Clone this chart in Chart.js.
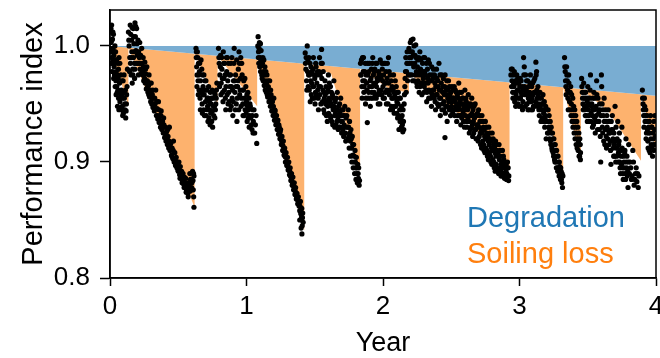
<!DOCTYPE html>
<html>
<head>
<meta charset="utf-8">
<script src="https://cdn.jsdelivr.net/npm/chart.js@4.4.0/dist/chart.umd.min.js"></script>
<style>
  html, body { margin: 0; padding: 0; background: #fff; }
  #chart { display: block; }
</style>
</head>
<body>
<canvas id="chart" width="660" height="358"></canvas>
<script>
// axis ticks
var xTicks = [0, 1, 2, 3, 4];
var yTicks = [0.8, 0.9, 1.0];
var legendLabels = ['Degradation', 'Soiling loss'];

// degradation trend (upper edge of the orange area)
var degradationX = [0, 4];
var degradationY = [1.0, 0.957];

// soiling profile (lower edge of the orange area)
var soilingX = [0, 0.135, 0.135, 0.62, 0.62, 0.788, 0.788, 1.078, 1.078, 1.423, 1.423, 1.62, 1.832, 1.832,
  2.058, 2.19, 2.19, 2.518, 2.664, 2.927, 2.927, 3.175, 3.32, 3.32, 3.45, 3.45, 3.65, 3.89, 3.89, 4.0];
var soilingY = [1.0, 0.948, 0.9986, 0.861, 0.9934, 0.950, 0.9916, 0.948, 0.9885, 0.841, 0.9848, 0.976, 0.892, 0.9804,
  0.962, 0.960, 0.9766, 0.945, 0.930, 0.896, 0.9687, 0.956, 0.889, 0.9645, 0.902, 0.963, 0.944, 0.901, 0.9584, 0.911];

// daily performance index, one array per cleaning cycle [year, value]
var cycle0 = [[0.005,1.012],[0.008,1.003],[0.01,0.995],[0.012,1.018],[0.015,0.99],[0.018,1.006],[0.02,0.985],[0.022,0.998],
  [0.025,1.01],[0.028,0.992],[0.03,0.982],[0.033,0.975],[0.036,1.0],[0.04,0.988],[0.043,0.97],[0.046,0.978],[0.05,0.965],
  [0.053,0.96],[0.056,0.985],[0.06,0.972],[0.063,0.955],[0.066,0.99],[0.07,0.968],[0.073,0.952],[0.076,0.946],[0.08,0.975],
  [0.083,0.962],[0.086,0.958],[0.09,0.948],[0.093,0.94],[0.096,0.97],[0.1,0.96],[0.105,0.955],[0.11,0.945],[0.115,0.938],
  [0.12,0.95],[0.125,0.965],[0.128,0.98],
  [0.003,0.998],[0.007,1.015],[0.011,0.985],[0.014,1.005],[0.017,0.978],[0.021,1.012],[0.024,0.988],[0.027,0.972],
  [0.031,0.995],[0.034,0.985],[0.038,0.965],[0.041,0.995],[0.045,0.958],[0.048,0.988],[0.052,0.975],[0.055,0.948],
  [0.058,0.962],[0.062,0.98],[0.065,0.945],[0.068,0.96],[0.072,0.985],[0.078,0.958],[0.082,0.945],[0.088,0.97],
  [0.092,0.955],[0.098,0.942],[0.103,0.975],[0.108,0.95],[0.113,0.962],[0.118,0.944],[0.122,0.958]];
var cycle1 = [[0.135,1.012],[0.14,1.0],[0.145,0.99],[0.148,1.018],[0.15,0.985],[0.155,0.975],[0.158,1.005],[0.16,0.995],
  [0.163,0.968],[0.166,0.98],[0.17,1.015],[0.172,0.99],[0.175,1.002],[0.178,0.985],[0.18,0.972],[0.183,1.02],[0.186,1.008],
  [0.19,0.996],[0.195,1.015],[0.2,0.992],[0.205,1.005],[0.21,0.995],[0.212,0.985],[0.218,1.003],[0.22,0.98],[0.225,0.992],
  [0.228,0.976],[0.232,0.998],[0.235,0.985],[0.24,0.975],[0.243,0.99],[0.247,0.97],[0.25,0.98],[0.255,0.986],[0.258,0.968],
  [0.262,0.976],[0.266,0.963],[0.27,0.982],[0.274,0.97],[0.278,0.96],[0.282,0.966],[0.286,0.975],[0.29,0.956],[0.294,0.962],
  [0.298,0.952],[0.302,0.968],[0.306,0.95],[0.31,0.958],[0.315,0.947],[0.32,0.955],[0.325,0.944],[0.33,0.95],[0.335,0.962],
  [0.34,0.94],[0.345,0.946],[0.35,0.937],[0.355,0.952],[0.36,0.934],[0.365,0.94],[0.37,0.93],[0.375,0.944],[0.38,0.928],
  [0.385,0.935],[0.39,0.925],[0.395,0.932],[0.4,0.921],[0.405,0.93],[0.41,0.918],[0.415,0.926],[0.42,0.915],[0.425,0.922],
  [0.43,0.912],[0.435,0.93],[0.44,0.91],[0.445,0.916],[0.45,0.906],[0.455,0.912],[0.46,0.903],[0.465,0.918],[0.47,0.9],
  [0.475,0.908],[0.48,0.897],[0.485,0.904],[0.49,0.895],[0.495,0.9],[0.5,0.892],[0.505,0.9],[0.51,0.889],[0.515,0.896],
  [0.52,0.886],[0.525,0.892],[0.53,0.884],[0.535,0.89],[0.54,0.881],[0.545,0.887],[0.55,0.878],[0.555,0.886],[0.56,0.876],
  [0.565,0.882],[0.57,0.873],[0.575,0.88],[0.58,0.875],[0.585,0.89],[0.59,0.885],[0.6,0.882],[0.605,0.892],[0.61,0.876],
  [0.613,0.87],[0.615,0.888],[0.615,0.861],
  [0.138,1.005],[0.143,0.978],[0.152,1.01],[0.157,0.99],[0.162,1.016],[0.168,0.975],[0.173,1.008],[0.177,0.995],
  [0.182,0.98],[0.188,1.017],[0.192,0.985],[0.198,1.002],[0.203,0.985],[0.208,0.975],[0.215,0.99],[0.223,0.985],
  [0.237,0.978],[0.245,0.982],[0.253,0.972],[0.26,0.98],[0.268,0.97],[0.276,0.965],[0.284,0.958],[0.292,0.968],[0.3,0.96],
  [0.308,0.955],[0.313,0.962],[0.318,0.95],[0.328,0.955],[0.333,0.946],[0.343,0.952],[0.348,0.94],[0.358,0.945],
  [0.363,0.936],[0.373,0.94],[0.378,0.932],[0.388,0.93],[0.393,0.938],[0.403,0.925],[0.408,0.922],[0.418,0.92],
  [0.423,0.928],[0.433,0.918],[0.438,0.914],[0.448,0.912],[0.453,0.905],[0.463,0.91],[0.468,0.902],[0.478,0.902],
  [0.483,0.898],[0.493,0.898],[0.498,0.893],[0.508,0.893],[0.513,0.886],[0.523,0.889],[0.528,0.882],[0.538,0.885],
  [0.543,0.878],[0.553,0.882],[0.558,0.874],[0.568,0.878],[0.573,0.87],[0.583,0.882],[0.588,0.875],[0.595,0.885],
  [0.598,0.878],[0.608,0.884],[0.612,0.89]];
var cycle2 = [[0.63,0.998],[0.632,0.99],[0.635,0.982],[0.638,0.975],[0.64,0.995],[0.645,0.97],[0.648,0.985],[0.652,0.962],
  [0.655,0.978],[0.66,0.955],[0.663,0.97],[0.667,0.988],[0.67,0.96],[0.675,0.95],[0.678,0.975],[0.682,0.965],[0.686,0.945],
  [0.69,0.958],[0.695,0.97],[0.7,0.952],[0.705,0.94],[0.71,0.962],[0.715,0.948],[0.72,0.955],[0.725,0.938],[0.73,0.945],
  [0.735,0.96],[0.74,0.95],[0.745,0.935],[0.75,0.944],[0.755,0.955],[0.76,0.94],[0.765,0.948],[0.77,0.958],[0.775,0.95],
  [0.78,0.962],
  [0.633,0.995],[0.637,0.965],[0.643,0.99],[0.647,0.958],[0.65,0.975],[0.657,0.985],[0.662,0.945],[0.665,0.962],
  [0.672,0.98],[0.677,0.942],[0.68,0.958],[0.688,0.975],[0.692,0.94],[0.698,0.962],[0.703,0.97],[0.708,0.945],
  [0.712,0.955],[0.718,0.935],[0.722,0.965],[0.728,0.952],[0.733,0.932],[0.738,0.942],[0.743,0.955],[0.748,0.962],
  [0.752,0.93],[0.758,0.948],[0.762,0.96],[0.768,0.938],[0.772,0.945],[0.778,0.955],[0.783,0.968]];
var cycle3 = [[0.795,0.998],[0.8,0.985],[0.805,0.975],[0.81,0.992],[0.815,0.968],[0.82,0.98],[0.825,0.96],[0.83,0.995],
  [0.835,0.972],[0.84,0.985],[0.845,0.955],[0.85,0.965],[0.855,0.978],[0.86,0.99],[0.865,0.95],[0.87,0.96],[0.875,0.975],
  [0.88,0.945],[0.885,0.985],[0.89,0.965],[0.895,0.955],[0.9,0.94],[0.905,0.97],[0.91,0.998],[0.915,0.96],[0.92,0.975],
  [0.925,0.95],[0.93,0.935],[0.935,0.965],[0.94,0.98],[0.945,0.995],[0.95,0.958],[0.955,0.972],[0.96,0.948],[0.965,0.985],
  [0.97,0.962],[0.975,0.94],[0.98,0.97],[0.985,0.955],[0.99,0.945],[0.995,0.965],[1.0,0.952],[1.005,0.935],[1.01,0.96],
  [1.015,0.945],[1.02,0.93],[1.025,0.95],[1.03,0.938],[1.04,0.928],[1.045,0.945],[1.05,0.935],[1.06,0.925],[1.07,0.94],
  [1.075,0.916],
  [0.798,0.99],[0.803,0.965],[0.808,0.982],[0.813,0.958],[0.818,0.99],[0.823,0.972],[0.828,0.952],[0.833,0.985],
  [0.838,0.962],[0.843,0.975],[0.848,0.945],[0.853,0.99],[0.858,0.958],[0.863,0.97],[0.868,0.985],[0.873,0.952],
  [0.878,0.965],[0.883,0.975],[0.888,0.948],[0.893,0.99],[0.898,0.962],[0.903,0.952],[0.908,0.985],[0.913,0.97],
  [0.918,0.945],[0.923,0.965],[0.928,0.988],[0.933,0.955],[0.938,0.97],[0.943,0.945],[0.948,0.985],[0.953,0.962],
  [0.958,0.99],[0.963,0.955],[0.968,0.975],[0.973,0.95],[0.978,0.962],[0.983,0.94],[0.988,0.972],[0.993,0.95],
  [0.998,0.942],[1.003,0.958],[1.008,0.948],[1.013,0.938],[1.018,0.955],[1.023,0.94],[1.028,0.948],[1.035,0.932],
  [1.042,0.94],[1.048,0.925],[1.055,0.945],[1.065,0.932]];
var cycle4 = [[1.085,1.008],[1.088,0.995],[1.09,0.985],[1.095,1.003],[1.1,0.99],[1.103,0.978],[1.107,0.996],[1.11,0.983],
  [1.115,0.972],[1.12,0.99],[1.125,0.978],[1.13,0.966],[1.135,0.982],[1.14,0.97],[1.145,0.96],[1.15,0.975],[1.155,0.956],
  [1.16,0.965],[1.165,0.952],[1.17,0.97],[1.175,0.948],[1.18,0.958],[1.185,0.944],[1.19,0.952],[1.195,0.94],[1.2,0.955],
  [1.205,0.936],[1.21,0.944],[1.215,0.932],[1.22,0.94],[1.225,0.928],[1.23,0.936],[1.235,0.924],[1.24,0.93],[1.245,0.92],
  [1.25,0.928],[1.255,0.915],[1.26,0.922],[1.265,0.91],[1.27,0.918],[1.275,0.906],[1.28,0.912],[1.285,0.9],[1.29,0.908],
  [1.295,0.897],[1.3,0.904],[1.305,0.893],[1.31,0.9],[1.315,0.889],[1.32,0.895],[1.325,0.884],[1.33,0.89],[1.335,0.88],
  [1.34,0.887],[1.345,0.876],[1.35,0.882],[1.355,0.872],[1.36,0.878],[1.365,0.868],[1.37,0.873],[1.375,0.864],[1.38,0.87],
  [1.385,0.862],[1.39,0.858],[1.395,0.866],[1.4,0.855],[1.405,0.86],[1.41,0.852],[1.415,0.848],[1.39,0.85],[1.4,0.843],
  [1.406,0.838],
  [1.083,1.0],[1.087,0.99],[1.092,0.998],[1.097,0.982],[1.102,1.002],[1.105,0.988],[1.112,0.975],[1.117,0.985],
  [1.122,0.97],[1.127,0.988],[1.132,0.975],[1.137,0.962],[1.142,0.978],[1.147,0.968],[1.152,0.958],[1.157,0.97],
  [1.162,0.958],[1.167,0.962],[1.172,0.955],[1.177,0.962],[1.182,0.95],[1.187,0.955],[1.192,0.944],[1.197,0.948],
  [1.202,0.94],[1.207,0.945],[1.212,0.936],[1.217,0.94],[1.222,0.932],[1.227,0.935],[1.232,0.928],[1.237,0.932],
  [1.242,0.924],[1.247,0.926],[1.252,0.92],[1.257,0.918],[1.262,0.915],[1.267,0.914],[1.272,0.91],[1.277,0.91],
  [1.282,0.905],[1.287,0.904],[1.292,0.9],[1.297,0.9],[1.302,0.898],[1.307,0.895],[1.312,0.893],[1.317,0.892],
  [1.322,0.888],[1.327,0.887],[1.332,0.884],[1.337,0.882],[1.342,0.88],[1.347,0.879],[1.352,0.876],[1.357,0.875],
  [1.362,0.872],[1.367,0.87],[1.372,0.868],[1.377,0.867],[1.382,0.865],[1.392,0.862],[1.398,0.856],[1.403,0.852],
  [1.408,0.845],[1.412,0.856]];
var cycle5 = [[1.43,0.994],[1.435,0.98],[1.44,0.97],[1.445,1.0],[1.45,0.988],[1.455,0.975],[1.46,0.962],[1.465,0.985],
  [1.47,0.97],[1.475,0.958],[1.48,0.978],[1.485,0.965],[1.49,0.99],[1.495,0.955],[1.5,0.972],[1.505,0.96],[1.51,0.982],
  [1.515,0.968],[1.52,0.978],[1.525,0.955],[1.53,0.965],[1.535,0.99],[1.54,0.975],[1.545,0.95],[1.55,0.997],[1.555,0.985],
  [1.56,0.962],[1.565,0.945],[1.57,0.955],[1.575,0.97],[1.58,0.95],[1.585,0.94],[1.59,0.96],[1.595,0.948],[1.6,0.975],
  [1.605,0.955],[1.61,0.94],[1.615,0.965],[1.62,0.95],[1.625,0.935],[1.63,0.958],[1.635,0.945],[1.64,0.97],[1.645,0.94],
  [1.65,0.952],[1.655,0.932],[1.66,0.945],[1.665,0.96],[1.67,0.938],[1.675,0.948],[1.68,0.93],[1.685,0.942],[1.69,0.955],
  [1.695,0.935],[1.7,0.945],[1.705,0.928],[1.71,0.94],[1.715,0.932],[1.72,0.948],[1.725,0.925],[1.73,0.938],[1.74,0.93],
  [1.745,0.945],[1.75,0.922],[1.755,0.935],[1.76,0.918],[1.765,0.928],[1.77,0.912],[1.775,0.922],[1.78,0.906],[1.785,0.915],
  [1.79,0.9],[1.795,0.91],[1.8,0.895],[1.805,0.904],[1.81,0.89],[1.815,0.898],[1.82,0.886],[1.825,0.88],[1.828,0.884],
  [1.432,0.985],[1.437,0.99],[1.442,0.962],[1.447,0.978],[1.452,0.965],[1.457,0.99],[1.462,0.975],[1.467,0.952],
  [1.472,0.982],[1.477,0.968],[1.482,0.955],[1.487,0.98],[1.492,0.965],[1.497,0.975],[1.502,0.95],[1.507,0.985],
  [1.512,0.958],[1.517,0.975],[1.522,0.962],[1.527,0.945],[1.532,0.978],[1.537,0.958],[1.542,0.965],[1.547,0.985],
  [1.552,0.972],[1.557,0.952],[1.562,0.978],[1.567,0.96],[1.572,0.942],[1.577,0.958],[1.582,0.965],[1.587,0.952],
  [1.592,0.935],[1.597,0.962],[1.602,0.942],[1.607,0.968],[1.612,0.952],[1.617,0.938],[1.622,0.96],[1.627,0.948],
  [1.632,0.932],[1.637,0.955],[1.642,0.948],[1.647,0.93],[1.652,0.942],[1.657,0.955],[1.662,0.935],[1.667,0.945],
  [1.672,0.928],[1.677,0.94],[1.682,0.95],[1.687,0.93],[1.692,0.94],[1.697,0.925],[1.702,0.935],[1.707,0.945],
  [1.712,0.922],[1.717,0.94],[1.722,0.93],[1.727,0.918],[1.735,0.94],[1.742,0.92],[1.748,0.93],[1.752,0.912],
  [1.758,0.925],[1.762,0.905],[1.768,0.92],[1.772,0.9],[1.778,0.915],[1.782,0.895],[1.788,0.905],[1.792,0.89],
  [1.798,0.9],[1.802,0.885],[1.808,0.895],[1.812,0.882],[1.818,0.89],[1.822,0.895]];
var cycle6 = [[1.835,0.985],[1.84,0.975],[1.845,0.965],[1.85,0.99],[1.855,0.978],[1.86,0.96],[1.865,0.97],[1.87,0.985],
  [1.875,0.955],[1.88,0.968],[1.885,0.934],[1.89,0.975],[1.895,0.96],[1.9,0.985],[1.905,0.97],[1.91,0.955],[1.915,0.98],
  [1.92,0.965],[1.925,0.99],[1.93,0.975],[1.935,0.96],[1.94,0.98],[1.945,0.968],[1.95,0.955],[1.955,0.985],[1.96,0.97],
  [1.965,0.95],[1.97,0.975],[1.975,0.96],[1.98,0.988],[1.985,0.972],[1.99,0.958],[1.995,0.98],[2.0,0.965],[2.005,0.975],
  [2.01,0.955],[2.015,0.985],[2.02,0.968],[2.025,0.95],[2.03,0.972],[2.035,0.96],[2.04,0.99],[2.045,0.978],[2.05,0.962],
  [2.055,0.945],[2.06,0.97],[2.065,0.955],[2.07,0.945],[2.075,0.962],[2.08,0.96],[2.085,0.948],[2.09,0.97],[2.095,0.955],
  [2.1,0.942],[2.105,0.96],[2.11,0.95],[2.115,0.94],[2.12,0.955],[2.125,0.935],[2.13,0.945],[2.135,0.93],[2.14,0.94],
  [2.145,0.926],[2.15,0.935],[2.155,0.95],[2.16,0.965],[2.165,0.978],[2.17,0.96],[2.175,0.985],[2.18,0.97],
  [1.837,0.975],[1.842,0.988],[1.847,0.955],[1.852,0.97],[1.857,0.99],[1.862,0.965],[1.867,0.978],[1.872,0.95],
  [1.877,0.975],[1.882,0.962],[1.887,0.985],[1.892,0.955],[1.897,0.978],[1.902,0.965],[1.907,0.948],[1.912,0.972],
  [1.917,0.96],[1.922,0.985],[1.927,0.955],[1.932,0.968],[1.937,0.978],[1.942,0.958],[1.947,0.985],[1.952,0.965],
  [1.957,0.972],[1.962,0.958],[1.967,0.978],[1.972,0.962],[1.977,0.95],[1.982,0.975],[1.987,0.962],[1.992,0.985],
  [1.997,0.97],[2.002,0.955],[2.007,0.985],[2.012,0.968],[2.017,0.96],[2.022,0.978],[2.027,0.962],[2.032,0.985],
  [2.037,0.95],[2.042,0.968],[2.047,0.958],[2.052,0.975],[2.057,0.962],[2.062,0.948],[2.067,0.965],[2.072,0.955],
  [2.077,0.975],[2.082,0.942],[2.087,0.958],[2.092,0.948],[2.097,0.965],[2.102,0.952],[2.107,0.938],[2.112,0.96],
  [2.117,0.928],[2.122,0.945],[2.127,0.955],[2.132,0.938],[2.137,0.948],[2.142,0.932],[2.147,0.945],[2.152,0.928],
  [2.157,0.958],[2.162,0.972],[2.167,0.99],[2.172,0.978],[2.177,0.995],[2.182,0.985],[2.186,0.975]];
var cycle7 = [[2.19,0.998],[2.195,0.985],[2.2,1.003],[2.205,0.99],[2.21,0.975],[2.215,0.995],[2.22,1.006],[2.225,0.982],
  [2.23,0.97],[2.235,0.992],[2.24,1.001],[2.245,0.978],[2.25,0.965],[2.255,0.988],[2.26,0.975],[2.265,0.96],[2.27,0.995],
  [2.275,0.98],[2.28,0.968],[2.285,0.958],[2.29,0.985],[2.295,0.972],[2.3,0.96],[2.305,0.99],[2.31,0.975],[2.315,0.962],
  [2.32,0.952],[2.325,0.98],[2.33,0.968],[2.335,0.955],[2.34,0.985],[2.345,0.97],[2.35,0.96],[2.355,0.948],[2.36,0.975],
  [2.365,0.962],[2.37,0.98],[2.375,0.955],[2.38,0.968],[2.385,0.945],[2.39,0.958],[2.395,0.972],[2.4,0.95],[2.405,0.965],
  [2.41,0.985],[2.415,0.955],[2.42,0.94],[2.425,0.962],[2.43,0.975],[2.435,0.95],[2.44,0.965],[2.445,0.945],[2.45,0.958],
  [2.454,0.921],[2.455,0.975],[2.46,0.948],[2.465,0.962],[2.47,0.935],[2.475,0.955],[2.48,0.97],[2.485,0.945],[2.49,0.958],
  [2.495,0.94],[2.5,0.952],[2.505,0.965],[2.51,0.942],[2.515,0.955],
  [2.52,0.955],[2.525,0.94],[2.53,0.962],[2.535,0.948],[2.54,0.935],[2.545,0.958],[2.55,0.945],[2.555,0.968],[2.56,0.94],
  [2.565,0.952],[2.57,0.932],[2.575,0.96],[2.58,0.945],[2.585,0.955],[2.59,0.935],[2.595,0.948],[2.6,0.962],[2.605,0.94],
  [2.61,0.952],[2.615,0.93],[2.62,0.945],[2.625,0.958],[2.63,0.935],[2.635,0.948],[2.64,0.928],[2.645,0.94],[2.65,0.955],
  [2.655,0.932],[2.66,0.945],[2.665,0.925],[2.67,0.938],[2.675,0.95],[2.68,0.928],[2.685,0.94],[2.69,0.92],[2.695,0.932],
  [2.7,0.945],[2.705,0.922],[2.71,0.935],[2.715,0.915],[2.72,0.928],[2.725,0.94],[2.73,0.918],[2.735,0.93],[2.74,0.91],
  [2.745,0.922],[2.75,0.935],[2.755,0.912],[2.76,0.925],[2.765,0.905],[2.77,0.918],[2.775,0.93],[2.78,0.908],[2.785,0.92],
  [2.79,0.9],[2.795,0.912],[2.8,0.925],[2.805,0.902],[2.81,0.915],[2.815,0.895],[2.82,0.908],[2.825,0.918],[2.83,0.898],
  [2.835,0.91],[2.84,0.892],[2.845,0.905],[2.85,0.915],[2.855,0.895],[2.86,0.905],[2.865,0.888],[2.87,0.9],[2.875,0.91],
  [2.88,0.89],[2.885,0.902],[2.89,0.886],[2.895,0.898],[2.9,0.892],[2.905,0.885],[2.91,0.895],[2.912,0.9],[2.915,0.888],
  [2.92,0.884],
  [2.192,0.99],[2.197,0.975],[2.202,0.995],[2.207,1.005],[2.212,0.985],[2.217,0.97],[2.222,0.992],[2.227,1.0],
  [2.232,0.985],[2.237,0.975],[2.242,0.99],[2.247,0.968],[2.252,0.982],[2.257,0.97],[2.262,0.99],[2.267,0.978],
  [2.272,0.965],[2.277,0.988],[2.282,0.975],[2.287,0.968],[2.292,0.978],[2.297,0.99],[2.302,0.965],[2.307,0.978],
  [2.312,0.968],[2.317,0.985],[2.322,0.96],[2.327,0.972],[2.332,0.988],[2.337,0.962],[2.342,0.975],[2.347,0.955],
  [2.352,0.97],[2.357,0.982],[2.362,0.958],[2.367,0.972],[2.372,0.962],[2.377,0.975],[2.382,0.952],[2.387,0.965],
  [2.392,0.98],[2.397,0.958],[2.402,0.97],[2.407,0.948],[2.412,0.962],[2.417,0.975],[2.422,0.955],[2.427,0.968],
  [2.432,0.945],[2.437,0.96],[2.442,0.972],[2.447,0.952],[2.452,0.965],[2.457,0.942],[2.462,0.958],[2.467,0.97],
  [2.472,0.948],[2.477,0.962],[2.482,0.952],[2.487,0.965],[2.492,0.945],[2.497,0.96],[2.502,0.948],[2.507,0.955],
  [2.512,0.962],[2.517,0.945],[2.522,0.965],[2.527,0.952],[2.532,0.945],[2.537,0.96],[2.542,0.95],[2.547,0.94],
  [2.552,0.955],[2.557,0.948],[2.562,0.96],[2.567,0.94],[2.572,0.95],[2.577,0.938],[2.582,0.955],[2.587,0.942],
  [2.592,0.95],[2.597,0.93],[2.602,0.945],[2.607,0.955],[2.612,0.935],[2.617,0.948],[2.622,0.938],[2.627,0.95],
  [2.632,0.925],[2.637,0.94],[2.642,0.95],[2.647,0.93],[2.652,0.942],[2.657,0.922],[2.662,0.935],[2.667,0.948],
  [2.672,0.928],[2.677,0.94],[2.682,0.92],[2.687,0.932],[2.692,0.942],[2.697,0.918],[2.702,0.93],[2.707,0.94],
  [2.712,0.925],[2.717,0.935],[2.722,0.912],[2.727,0.925],[2.732,0.935],[2.737,0.915],[2.742,0.928],[2.747,0.908],
  [2.752,0.92],[2.757,0.93],[2.762,0.91],[2.767,0.922],[2.772,0.902],[2.777,0.915],[2.782,0.925],[2.787,0.905],
  [2.792,0.918],[2.797,0.898],[2.802,0.91],[2.807,0.92],[2.812,0.9],[2.817,0.912],[2.822,0.892],[2.827,0.905],
  [2.832,0.915],[2.837,0.895],[2.842,0.908],[2.847,0.89],[2.852,0.902],[2.857,0.91],[2.862,0.892],[2.867,0.898],
  [2.872,0.888],[2.877,0.895],[2.882,0.905],[2.887,0.89],[2.892,0.895],[2.897,0.886],[2.902,0.898],[2.907,0.89],
  [2.917,0.895],[2.922,0.888]];
var cycle8 = [[2.94,0.98],[2.945,0.97],[2.95,0.96],[2.955,0.975],[2.96,0.965],[2.965,0.952],[2.97,0.97],[2.975,0.958],
  [2.98,0.975],[2.985,0.962],[2.99,0.95],[2.995,0.968],[3.0,0.955],[3.005,0.972],[3.01,0.96],[3.015,0.948],[3.02,0.965],
  [3.025,0.952],[3.03,0.99],[3.035,0.982],[3.04,0.958],[3.045,0.975],[3.05,0.962],[3.055,0.95],[3.06,0.97],[3.065,0.955],
  [3.07,0.945],[3.075,0.96],[3.08,0.975],[3.085,0.952],[3.09,0.965],[3.095,0.945],[3.1,0.958],[3.105,0.97],[3.11,0.948],
  [3.115,0.96],[3.12,0.986],[3.125,0.978],[3.13,0.955],[3.135,0.965],[3.14,0.95],[3.145,0.94],[3.15,0.96],[3.155,0.945],
  [3.16,0.955],[3.165,0.938],[3.17,0.95],[3.175,0.935],[3.18,0.945],[3.185,0.93],[3.19,0.94],[3.195,0.92],[3.2,0.935],
  [3.205,0.925],[3.21,0.945],[3.215,0.93],[3.22,0.92],[3.225,0.935],[3.23,0.915],[3.235,0.925],[3.24,0.91],[3.245,0.92],
  [3.25,0.905],[3.255,0.915],[3.26,0.9],[3.265,0.91],[3.27,0.895],[3.275,0.905],[3.28,0.892],[3.285,0.9],[3.29,0.888],
  [3.295,0.896],[3.3,0.885],[3.305,0.892],[3.31,0.882],[3.315,0.878],[3.318,0.888],
  [2.937,0.975],[2.942,0.965],[2.947,0.98],[2.952,0.955],[2.957,0.968],[2.962,0.978],[2.967,0.96],[2.972,0.948],
  [2.977,0.968],[2.982,0.955],[2.987,0.972],[2.992,0.962],[2.997,0.948],[3.002,0.965],[3.007,0.955],[3.012,0.97],
  [3.017,0.958],[3.022,0.945],[3.027,0.962],[3.032,0.975],[3.037,0.965],[3.042,0.948],[3.047,0.96],[3.052,0.97],
  [3.057,0.958],[3.062,0.945],[3.067,0.965],[3.072,0.952],[3.077,0.968],[3.082,0.958],[3.087,0.945],[3.092,0.955],
  [3.097,0.968],[3.102,0.948],[3.107,0.96],[3.112,0.972],[3.117,0.952],[3.122,0.975],[3.127,0.962],[3.132,0.948],
  [3.137,0.958],[3.142,0.945],[3.147,0.955],[3.152,0.948],[3.157,0.935],[3.162,0.95],[3.167,0.945],[3.172,0.958],
  [3.177,0.942],[3.182,0.952],[3.187,0.938],[3.192,0.948],[3.197,0.935],[3.202,0.945],[3.207,0.935],[3.212,0.925],
  [3.217,0.94],[3.222,0.928],[3.227,0.918],[3.232,0.93],[3.237,0.912],[3.242,0.925],[3.247,0.908],[3.252,0.92],
  [3.257,0.902],[3.262,0.915],[3.267,0.9],[3.272,0.91],[3.277,0.895],[3.282,0.905],[3.287,0.892],[3.292,0.9],
  [3.297,0.888],[3.302,0.895],[3.307,0.885],[3.312,0.89]];
var cycle9 = [[3.33,0.99],[3.335,0.978],[3.34,0.965],[3.345,0.982],[3.35,0.97],[3.355,0.955],[3.36,0.975],[3.365,0.96],
  [3.37,0.945],[3.375,0.965],[3.38,0.95],[3.385,0.935],[3.39,0.955],[3.395,0.94],[3.4,0.925],[3.405,0.945],[3.41,0.93],
  [3.415,0.915],[3.42,0.935],[3.425,0.92],[3.43,0.91],[3.435,0.925],[3.44,0.905],[3.445,0.915],
  [3.332,0.982],[3.337,0.97],[3.342,0.958],[3.347,0.975],[3.352,0.962],[3.357,0.945],[3.362,0.968],[3.367,0.952],
  [3.372,0.96],[3.377,0.94],[3.382,0.958],[3.387,0.945],[3.392,0.93],[3.397,0.948],[3.402,0.935],[3.407,0.92],
  [3.412,0.94],[3.417,0.925],[3.422,0.912],[3.427,0.93],[3.432,0.918],[3.437,0.905],[3.442,0.92],[3.447,0.908],
  [3.446,0.902]];
var cycle10 = [[3.455,0.972],[3.46,0.96],[3.465,0.95],[3.47,0.968],[3.475,0.955],[3.48,0.945],[3.485,0.96],[3.49,0.94],
  [3.495,0.952],[3.5,0.965],[3.505,0.945],[3.51,0.935],[3.515,0.955],[3.52,0.975],[3.525,0.942],[3.53,0.95],[3.535,0.93],
  [3.54,0.945],[3.545,0.96],[3.55,0.938],[3.555,0.925],[3.56,0.948],[3.565,0.97],[3.57,0.935],[3.575,0.955],[3.58,0.942],
  [3.585,0.928],[3.59,0.945],[3.595,0.9],[3.6,0.975],[3.605,0.95],[3.61,0.925],[3.615,0.94],[3.62,0.955],[3.625,0.915],
  [3.63,0.935],[3.635,0.922],[3.64,0.94],[3.645,0.928],[3.65,0.945],[3.655,0.925],[3.66,0.935],[3.665,0.918],[3.67,0.898],
  [3.675,0.928],[3.68,0.94],[3.685,0.92],[3.69,0.905],[3.695,0.915],[3.7,0.948],[3.705,0.9],[3.71,0.912],[3.715,0.92],
  [3.72,0.935],[3.725,0.908],[3.73,0.918],[3.735,0.9],[3.74,0.89],[3.745,0.905],[3.75,0.93],[3.755,0.895],[3.76,0.885],
  [3.765,0.9],[3.77,0.908],[3.775,0.89],[3.78,0.92],[3.785,0.895],[3.79,0.888],[3.795,0.878],[3.8,0.915],[3.81,0.9],
  [3.82,0.885],[3.83,0.91],[3.84,0.88],[3.85,0.89],[3.86,0.883],[3.87,0.878],[3.875,0.888],
  [3.457,0.965],[3.462,0.955],[3.467,0.945],[3.472,0.96],[3.477,0.948],[3.482,0.94],[3.487,0.955],[3.492,0.948],
  [3.497,0.935],[3.502,0.955],[3.507,0.94],[3.512,0.95],[3.517,0.962],[3.522,0.935],[3.527,0.948],[3.532,0.94],
  [3.537,0.955],[3.542,0.932],[3.547,0.945],[3.552,0.955],[3.557,0.935],[3.562,0.94],[3.567,0.958],[3.572,0.928],
  [3.577,0.945],[3.582,0.935],[3.587,0.95],[3.592,0.922],[3.597,0.94],[3.602,0.965],[3.607,0.93],[3.612,0.945],
  [3.617,0.918],[3.622,0.935],[3.627,0.928],[3.632,0.945],[3.637,0.912],[3.642,0.93],[3.647,0.92],[3.652,0.935],
  [3.657,0.915],[3.662,0.925],[3.667,0.91],[3.672,0.935],[3.677,0.918],[3.682,0.928],[3.687,0.912],[3.692,0.925],
  [3.697,0.905],[3.702,0.918],[3.707,0.93],[3.712,0.905],[3.717,0.912],[3.722,0.9],[3.727,0.915],[3.732,0.925],
  [3.737,0.895],[3.742,0.91],[3.747,0.898],[3.752,0.912],[3.757,0.89],[3.762,0.905],[3.767,0.895],[3.772,0.91],
  [3.777,0.885],[3.782,0.9],[3.787,0.905],[3.792,0.892],[3.797,0.9],[3.805,0.89],[3.815,0.895],[3.825,0.888],
  [3.835,0.9],[3.845,0.885],[3.855,0.895],[3.865,0.89]];
var cycle11 = [[3.9,0.962],[3.905,0.95],[3.91,0.94],[3.915,0.955],[3.92,0.935],[3.925,0.945],[3.93,0.925],[3.935,0.94],
  [3.94,0.918],[3.945,0.93],[3.95,0.91],[3.955,0.925],[3.96,0.94],[3.965,0.915],[3.97,0.93],[3.975,0.905],[3.98,0.92],
  [3.985,0.935],[3.99,0.928],[3.995,0.915],
  [3.902,0.955],[3.907,0.945],[3.912,0.93],[3.917,0.948],[3.922,0.94],[3.927,0.92],[3.932,0.935],[3.937,0.928],
  [3.942,0.912],[3.947,0.925],[3.952,0.935],[3.957,0.908],[3.962,0.92],[3.967,0.93],[3.972,0.912],[3.977,0.925],
  [3.982,0.915],[3.987,0.91],[3.992,0.94],[3.997,0.922]];

var cycles = [cycle0, cycle1, cycle2, cycle3, cycle4, cycle5, cycle6, cycle7, cycle8, cycle9, cycle10, cycle11];

var blueFill = '#79add2';
var orangeFill = '#fdb26e';
var blueText = '#1f77b4';
var orangeText = '#ff7f0e';
var fontName = '"Liberation Sans", Arial, Helvetica, sans-serif';

var scatterData = [];
cycles.forEach(function (c) {
    c.forEach(function (p) { scatterData.push({ x: p[0], y: p[1] }); });
});
var degradationData = degradationX.map(function (x, i) { return { x: x, y: degradationY[i] }; });
var soilingData = soilingX.map(function (x, i) { return { x: x, y: soilingY[i] }; });

// frame around the plot and the two coloured labels
var framePlugin = {
    id: 'framePlugin',
    afterDraw: function (chart) {
        var ctx = chart.ctx;
        var a = chart.chartArea;
        ctx.save();
        ctx.strokeStyle = '#000';
        ctx.lineWidth = 1.5;
        ctx.strokeRect(a.left, a.top, a.right - a.left, a.bottom - a.top);
        ctx.font = '29px ' + fontName;
        ctx.textAlign = 'left';
        ctx.textBaseline = 'alphabetic';
        ctx.fillStyle = blueText;
        ctx.fillText(legendLabels[0], a.left + 357, a.top + 216.5);
        ctx.fillStyle = orangeText;
        ctx.fillText(legendLabels[1], a.left + 357, a.top + 253);
        ctx.restore();
    }
};

var ctx = document.getElementById('chart').getContext('2d');
var chart = new Chart(ctx, {
    type: 'line',
    data: {
        datasets: [{
            label: 'Performance index',
            data: scatterData,
            showLine: false,
            pointRadius: 2.6,
            pointBackgroundColor: '#000',
            pointBorderWidth: 0,
            borderColor: '#000'
        }, {
            label: legendLabels[0],
            data: degradationData,
            pointRadius: 0,
            borderWidth: 0,
            borderColor: 'transparent',
            backgroundColor: blueFill,
            fill: { value: 1.0 }
        }, {
            label: legendLabels[1],
            data: soilingData,
            pointRadius: 0,
            borderWidth: 0,
            borderColor: 'transparent',
            backgroundColor: orangeFill,
            fill: 1,
            tension: 0
        }]
    },
    options: {
        responsive: false,
        devicePixelRatio: 1,
        animation: false,
        layout: { padding: { left: 0, right: 3, top: 10, bottom: 0 } },
        plugins: {
            legend: { display: false },
            tooltip: { enabled: false }
        },
        scales: {
            x: {
                type: 'linear',
                min: 0,
                max: 4,
                afterBuildTicks: function (s) { s.ticks = xTicks.map(function (v) { return { value: v }; }); },
                afterFit: function (s) { s.height = 80; s.paddingLeft = 0; s.paddingRight = 0; },
                border: { color: '#000', width: 1.5 },
                grid: { drawOnChartArea: false, color: '#000', tickLength: 8, tickWidth: 1.5 },
                ticks: { color: '#000', padding: 5, maxRotation: 0, font: { family: fontName, size: 26 } },
                title: { display: true, text: 'Year', color: '#000', padding: { top: 0, bottom: 1 },
                    font: { family: fontName, size: 27, lineHeight: 1 } }
            },
            y: {
                type: 'linear',
                min: 0.8,
                max: 1.031,
                afterBuildTicks: function (s) { s.ticks = yTicks.map(function (v) { return { value: v }; }); },
                afterFit: function (s) { s.width = 110; s.paddingTop = 0; s.paddingBottom = 0; },
                border: { color: '#000', width: 1.5 },
                grid: { drawOnChartArea: false, color: '#000', tickLength: 10, tickWidth: 1.5 },
                ticks: {
                    color: '#000', padding: 10, font: { family: fontName, size: 26 },
                    callback: function (v) { return v.toFixed(1); }
                },
                title: { display: true, text: 'Performance index', color: '#000', padding: { top: 19, bottom: 0 },
                    font: { family: fontName, size: 29, lineHeight: 1 } }
            }
        }
    },
    plugins: [framePlugin]
});
</script>
</body>
</html>
